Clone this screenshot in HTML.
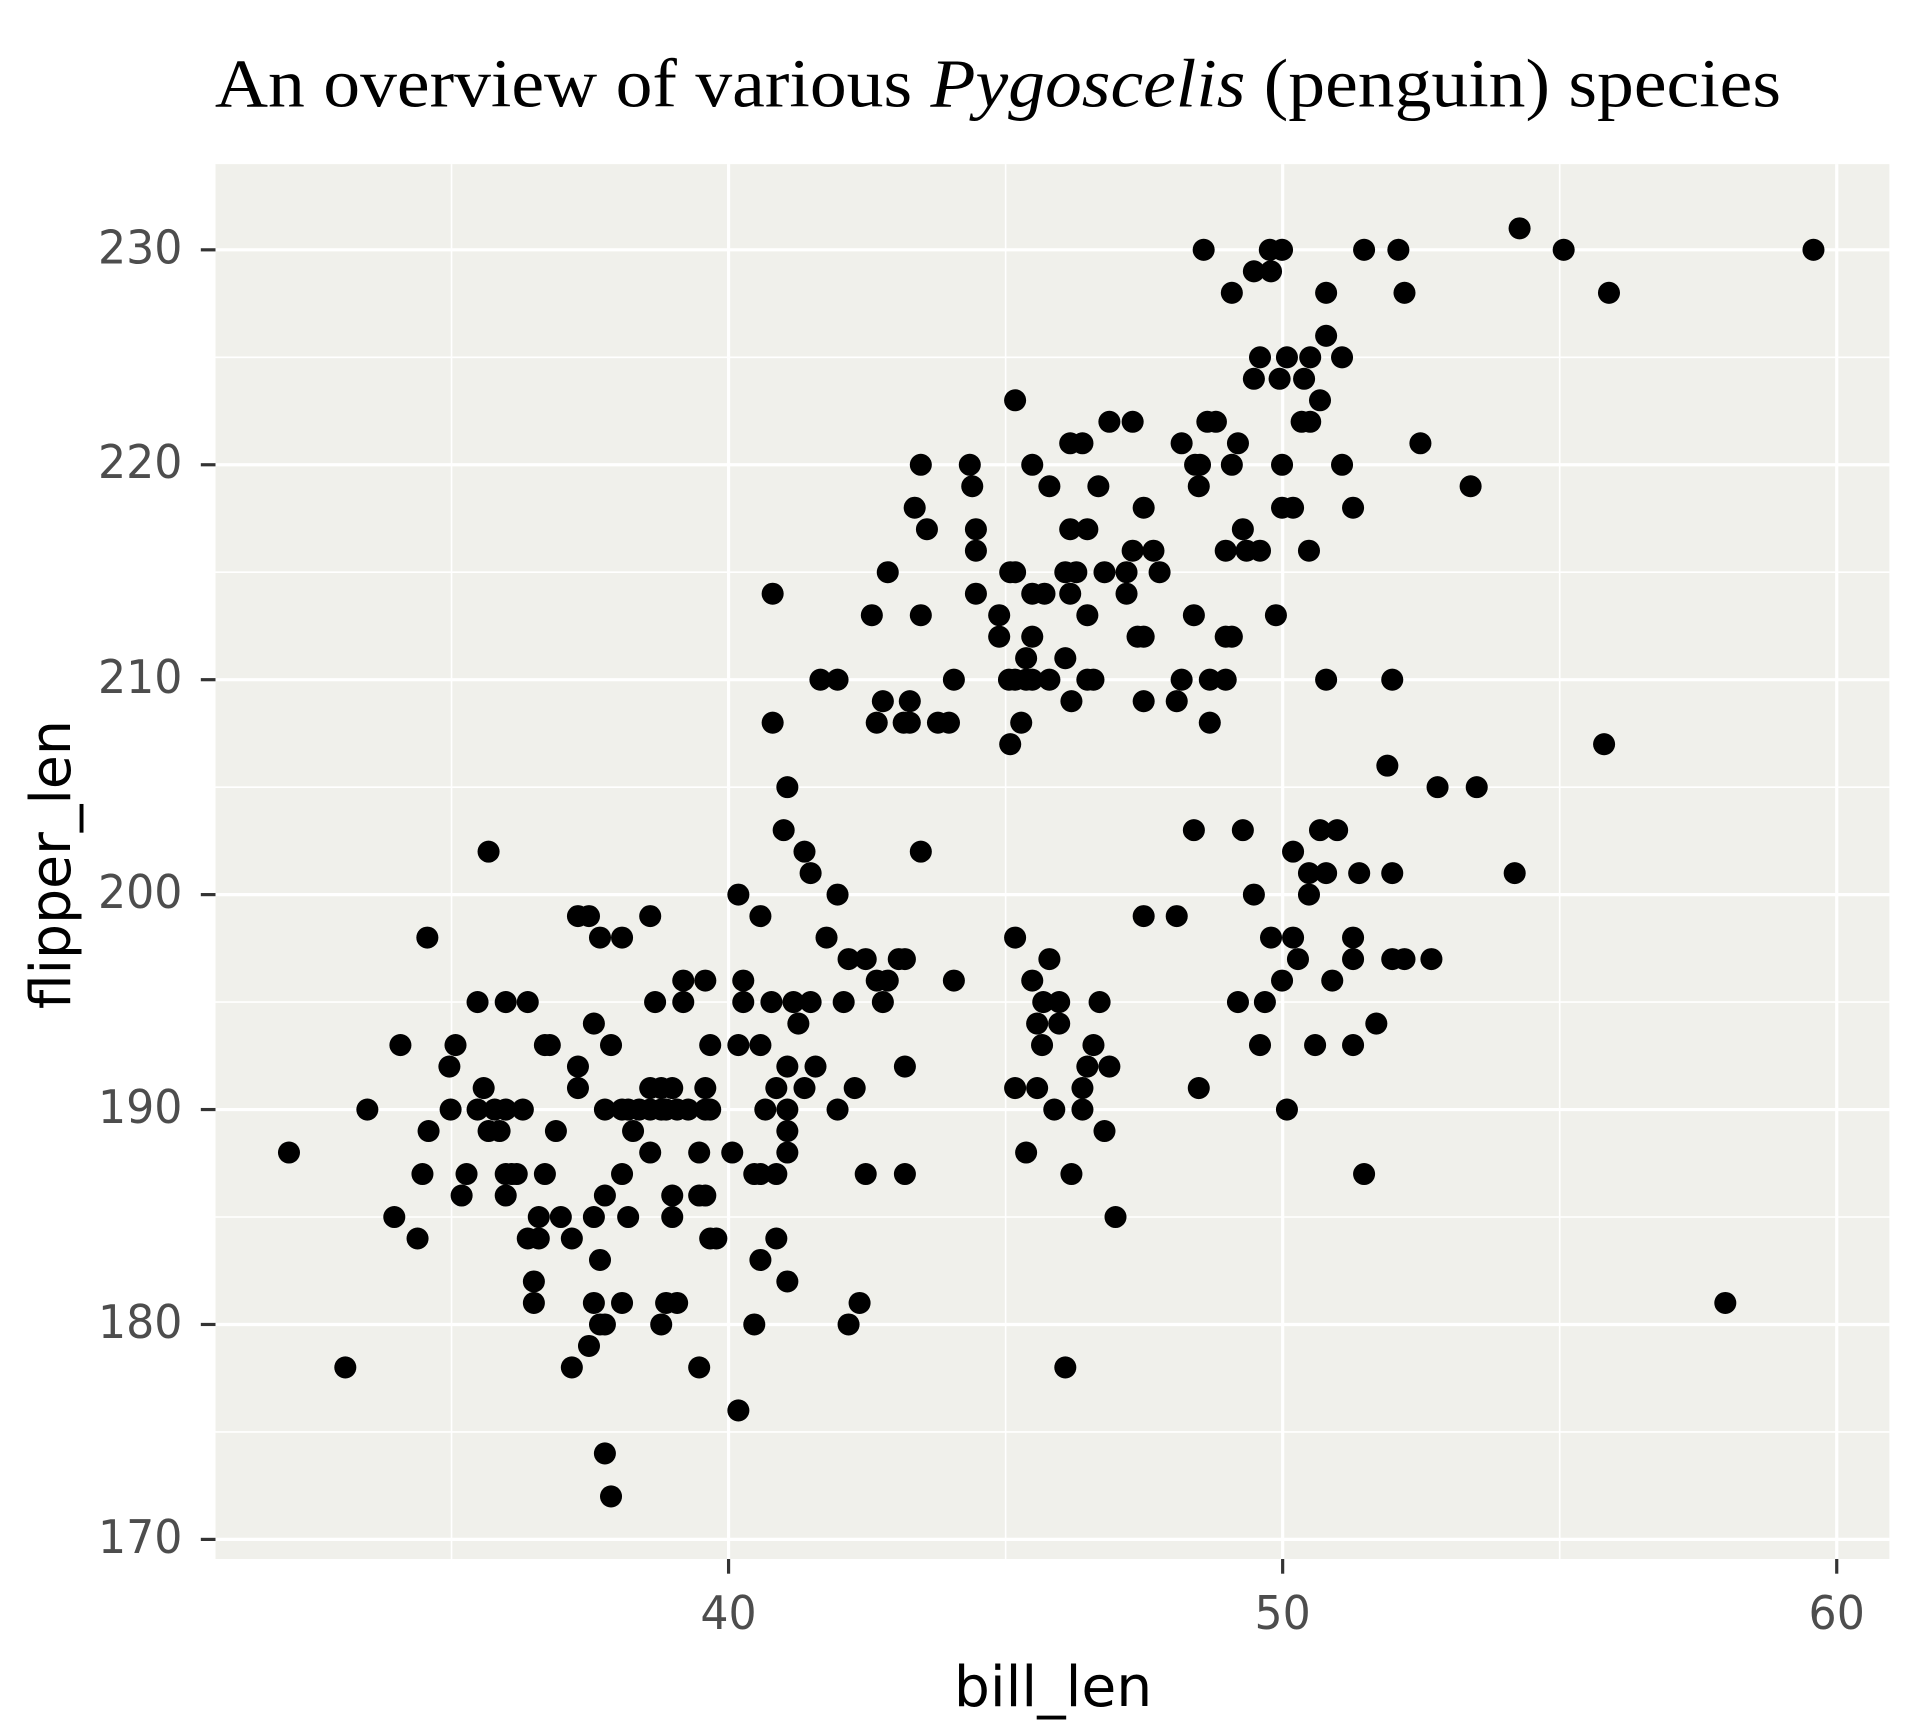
<!DOCTYPE html>
<html><head><meta charset="utf-8"><style>
html,body{margin:0;padding:0;background:#fff;}
svg{display:block;}
</style></head><body>
<svg id="s" width="1920" height="1728" viewBox="0 0 1568 1411" preserveAspectRatio="none" xmlns="http://www.w3.org/2000/svg">
<rect x="0" y="0" width="1568" height="1411" fill="#fff"/>
<text x="815" y="87" text-anchor="middle" font-family="Liberation Serif, serif" font-size="56" fill="#000" textLength="1279" lengthAdjust="spacingAndGlyphs">An overview of various <tspan font-style="italic">Pygoscelis</tspan> (penguin) species</text>
<rect x="176" y="134" width="1367" height="1139" fill="#f0f0eb"/>
<g id="grid"></g>
<g id="pts"></g>
<g id="axes" font-family="DejaVu Sans, Liberation Sans, sans-serif"></g>
<text x="860" y="1393" text-anchor="middle" font-family="DejaVu Sans, Liberation Sans, sans-serif" font-size="46" fill="#000" textLength="162" lengthAdjust="spacingAndGlyphs">bill_len</text>
<text transform="translate(57,706) rotate(-90)" text-anchor="middle" font-family="DejaVu Sans, Liberation Sans, sans-serif" font-size="46" fill="#000" textLength="236" lengthAdjust="spacingAndGlyphs">flipper_len</text>
</svg>
<script>
const NS="http://www.w3.org/2000/svg";
function el(p,t,a,txt){const e=document.createElementNS(NS,t);for(const k in a)e.setAttribute(k,a[k]);if(txt!==undefined)e.textContent=txt;document.getElementById(p).appendChild(e);return e;}
const X=v=>595+(v-40)*45.25, Y=v=>204+(230-v)*17.55;
[35,45,55].forEach(v=>el("grid","line",{x1:X(v),x2:X(v),y1:134,y2:1273,stroke:"#fff","stroke-width":1.3}));
[175,185,195,205,215,225].forEach(v=>el("grid","line",{x1:176,x2:1543,y1:Y(v),y2:Y(v),stroke:"#fff","stroke-width":1.3}));
[40,50,60].forEach(v=>el("grid","line",{x1:X(v),x2:X(v),y1:134,y2:1273,stroke:"#fff","stroke-width":2.6}));
[170,180,190,200,210,220,230].forEach(v=>{
 el("grid","line",{x1:176,x2:1543,y1:Y(v),y2:Y(v),stroke:"#fff","stroke-width":2.6});
 el("axes","line",{x1:164,x2:176,y1:Y(v),y2:Y(v),stroke:"#333","stroke-width":2.6});
 el("axes","text",{x:149,y:Y(v)+11,"text-anchor":"end","font-size":38,fill:"#4d4d4d",textLength:69,lengthAdjust:"spacingAndGlyphs"},String(v));
});
[40,50,60].forEach(v=>{
 el("axes","line",{x1:X(v),x2:X(v),y1:1273,y2:1285,stroke:"#333","stroke-width":2.6});
 el("axes","text",{x:X(v),y:1330,"text-anchor":"middle","font-size":38,fill:"#4d4d4d",textLength:46,lengthAdjust:"spacingAndGlyphs"},String(v));
});
const D={
231:[1241],230:[983,1037,1047,1114,1142,1277,1481],229:[1024,1038],228:[1006,1083,1147,1314],226:[1083],
225:[1029,1051,1070,1096],224:[1024,1045,1065],223:[829,1078],222:[906,925,986,993,1063,1070],
221:[874,884,965,1011,1160],220:[752,792,843,976,980,1006,1047,1096],219:[794,857,897,979,1201],
218:[747,934,1047,1056,1105],217:[757,797,874,888,1015],216:[797,925,942,1001,1018,1029,1069],
215:[725,825,829,870,879,902,920,947],214:[631,797,843,853,874,920],213:[712,752,816,888,975,1042],
212:[816,843,929,934,1001,1006],211:[838,870],
210:[670,684,779,824,829,838,843,857,888,893,965,988,1001,1083,1137],209:[721,743,875,934,961],
208:[631,716,738,743,766,775,834,988],207:[825,1310],206:[1133],205:[643,1174,1206],
203:[640,975,1015,1078,1092],202:[399,657,752,1056],201:[662,1069,1083,1110,1137,1237],
200:[603,684,1024,1069],199:[472,481,531,621,934,961],198:[349,490,508,675,829,1038,1056,1105],
197:[693,707,734,739,857,1060,1105,1137,1147,1169],196:[558,576,607,716,725,779,843,1047,1088],
195:[390,413,431,535,558,607,630,648,662,689,721,852,865,898,1011,1033],194:[485,652,847,865,1124],
193:[327,372,445,449,499,580,603,621,851,893,1029,1074,1105],192:[367,472,643,666,739,888,906],
191:[395,472,531,540,549,576,634,657,698,829,847,884,979],
190:[300,368,390,404,413,427,494,508,513,522,531,540,544,553,562,576,580,625,643,684,861,884,1051],
189:[350,399,408,454,517,643,902],188:[236,531,571,598,643,838],
187:[345,381,413,418,422,445,508,616,621,634,707,739,875,1114],186:[377,413,494,549,571,576],
185:[322,440,458,485,513,549,911],184:[341,431,440,467,580,585,634],183:[490,621],182:[436,643],
181:[436,485,508,544,553,702,1409],180:[490,494,540,616,693],179:[481],178:[282,467,571,870],
176:[603],174:[494],172:[499]};
for(const k in D){D[k].forEach(x=>el("pts","circle",{cx:x,cy:Y(+k),r:9,fill:"#000"}));}
</script>
</body></html>
